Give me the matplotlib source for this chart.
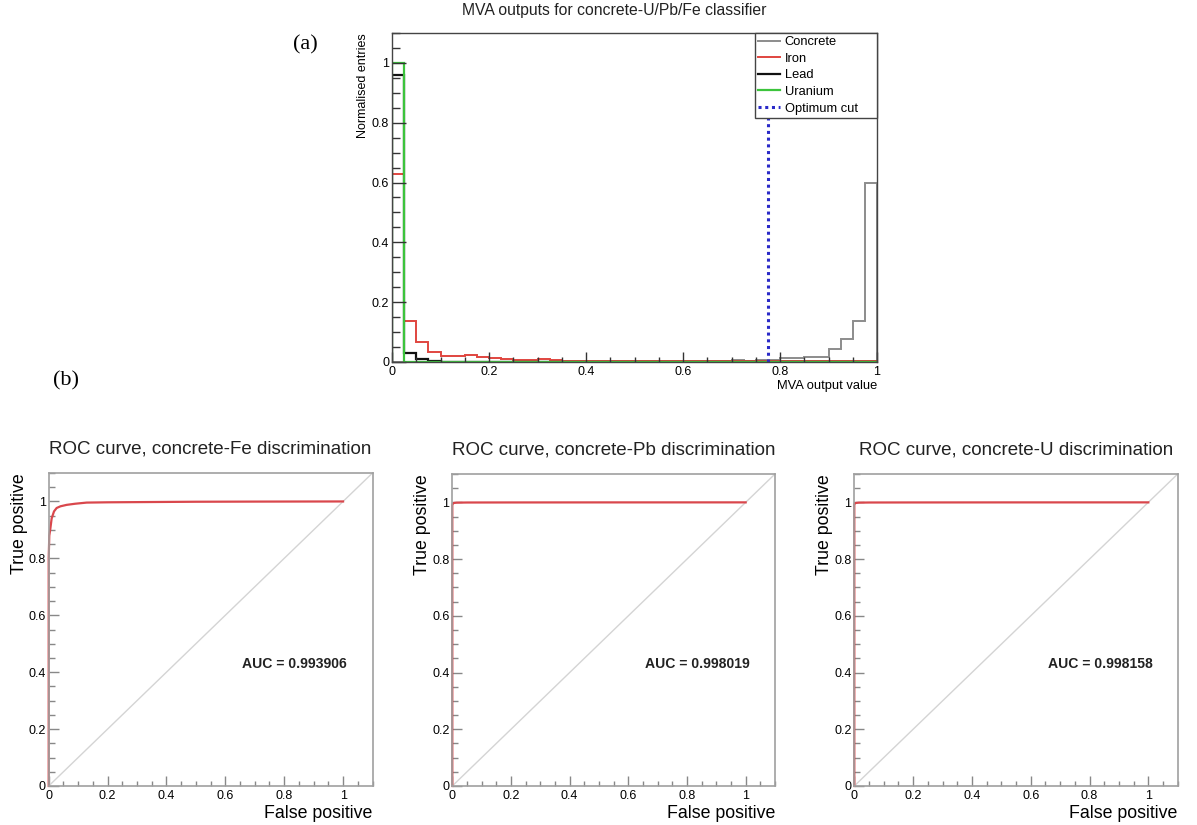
import numpy as np
import matplotlib
matplotlib.use("Agg")
import matplotlib.pyplot as plt
from matplotlib.ticker import MultipleLocator, FuncFormatter

# ---------------- data ----------------
# MVA output histograms, 40 bins over [0, 1], normalised
bin_edges = np.linspace(0.0, 1.0, 41)

concrete = [0.001] * 26 + [0.003, 0.005, 0.006, 0.005, 0.006, 0.008,
                           0.012, 0.015, 0.018, 0.018, 0.043, 0.076, 0.138, 0.600]
iron = [0.627, 0.137, 0.068, 0.034, 0.020, 0.020, 0.022, 0.018, 0.012, 0.010,
        0.008, 0.008, 0.010, 0.007, 0.005, 0.005, 0.004, 0.004, 0.004, 0.004,
        0.004, 0.004, 0.003, 0.003, 0.003, 0.003, 0.003, 0.003, 0.003, 0.003,
        0.003, 0.003, 0.003, 0.003, 0.003, 0.003, 0.003, 0.003, 0.003, 0.003]
lead = [0.961, 0.029, 0.011, 0.005] + [0.0] * 36
uranium = [1.000, 0.001, 0.001, 0.001] + [0.0] * 36
optimum_cut = 0.776

# ROC curves (false positive rate, true positive rate)
roc_titles = ["ROC curve, concrete-Fe discrimination",
              "ROC curve, concrete-Pb discrimination",
              "ROC curve, concrete-U discrimination"]
roc_auc = ["0.993906", "0.998019", "0.998158"]
roc_fpr = [
    [0.0, 0.0, 0.002, 0.005, 0.010, 0.018, 0.027, 0.040, 0.061, 0.090, 0.129, 0.20, 0.35, 0.50, 0.70, 1.0],
    [0.0, 0.0, 0.002, 0.006, 0.015, 0.05, 0.2, 0.5, 1.0],
    [0.0, 0.0, 0.002, 0.006, 0.015, 0.05, 0.2, 0.5, 1.0],
]
roc_tpr = [
    [0.0, 0.80, 0.88, 0.90, 0.94, 0.965, 0.977, 0.983, 0.988, 0.992, 0.996, 0.997, 0.998, 0.999, 0.9995, 1.0],
    [0.0, 0.990, 0.996, 0.998, 0.999, 0.9995, 0.9997, 0.9999, 1.0],
    [0.0, 0.992, 0.997, 0.998, 0.999, 0.9995, 0.9997, 0.9999, 1.0],
]

# ---------------- style ----------------
SANS = ["Liberation Sans", "DejaVu Sans"]
SERIF = ["Liberation Serif", "DejaVu Serif"]
plt.rcParams["font.family"] = SANS

W, H = 1197, 825
fig = plt.figure(figsize=(W / 100, H / 100), dpi=100)


def box(x0, y0, x1, y1):
    """Axes rectangle from pixel corners (top-left origin)."""
    return [x0 / W, 1 - y1 / H, (x1 - x0) / W, (y1 - y0) / H]


fmt = FuncFormatter(lambda v, p: f"{v:g}")


def root_ticks(ax, xmaj_len, ymaj_len, color, labelsize):
    ax.xaxis.set_major_locator(MultipleLocator(0.2))
    ax.xaxis.set_minor_locator(MultipleLocator(0.05))
    ax.yaxis.set_major_locator(MultipleLocator(0.2))
    ax.yaxis.set_minor_locator(MultipleLocator(0.05))
    ax.xaxis.set_major_formatter(fmt)
    ax.yaxis.set_major_formatter(fmt)
    ax.tick_params(axis="x", which="major", direction="in", length=xmaj_len,
                   width=1.0, color=color, labelsize=labelsize, pad=3)
    ax.tick_params(axis="x", which="minor", direction="in", length=xmaj_len / 2,
                   width=1.0, color=color)
    ax.tick_params(axis="y", which="major", direction="in", length=ymaj_len,
                   width=1.0, color=color, labelsize=labelsize, pad=2)
    ax.tick_params(axis="y", which="minor", direction="in", length=ymaj_len * 0.6,
                   width=1.0, color=color)


# ---------------- (a) MVA output histogram ----------------
ax = fig.add_axes(box(392, 33, 877, 362))
ax.set_xlim(0, 1)
ax.set_ylim(0, 1.1)
ax.stairs(concrete, bin_edges, color="#8c8c8c", lw=1.4, label="Concrete", baseline=0)
ax.stairs(iron, bin_edges, color="#e0453f", lw=1.4, label="Iron", baseline=0)
ax.stairs(lead, bin_edges, color="#111111", lw=1.6, label="Lead", baseline=0)
ax.stairs(uranium, bin_edges, color="#3cc43c", lw=1.6, label="Uranium", baseline=0)
ax.axvline(optimum_cut, color="#2a2ac8", lw=2.2, ls=(0, (1, 1.2)), label="Optimum cut")
root_ticks(ax, 7, 10, "#333333", 9)
for s in ax.spines.values():
    s.set_color("#444444")
    s.set_linewidth(1.0)
leg_x0 = (755 - 392) / 485
leg = ax.legend(loc="upper left", bbox_to_anchor=(leg_x0, 0.0, 1.0 - leg_x0, 1.0),
                mode="expand", fontsize=9.3,
                frameon=True, fancybox=False, framealpha=1.0, edgecolor="#444444",
                handlelength=1.7, handletextpad=0.35, borderpad=0.25,
                labelspacing=0.35, borderaxespad=0.0)
leg.get_frame().set_linewidth(1.0)
fig.text(614 / W, 1 - 11 / H, "MVA outputs for concrete-U/Pb/Fe classifier",
         ha="center", va="center", fontsize=11.3, color="#222222")
ax.set_ylabel("Normalised entries", loc="top", fontsize=9, labelpad=2)
ax.set_xlabel("MVA output value", loc="right", fontsize=9.3, labelpad=1)
fig.text(305 / W, 1 - 45 / H, "(a)", ha="center", va="center",
         fontsize=16, family=SERIF)
fig.text(66 / W, 1 - 381 / H, "(b)", ha="center", va="center",
         fontsize=16, family=SERIF)

# ---------------- (b) ROC curves ----------------
roc_boxes = [(48.7, 473, 372.5, 786), (452.3, 474, 775, 786), (854.3, 474, 1177.7, 786)]
for i, (x0, y0, x1, y1) in enumerate(roc_boxes):
    ax = fig.add_axes(box(x0, y0, x1, y1))
    ax.set_xlim(0, 1.1)
    ax.set_ylim(0, 1.1)
    ax.plot([0, 1.1], [0, 1.1], color="#d4d4d4", lw=1.0)
    ax.plot(roc_fpr[i], roc_tpr[i], color="#d9474c", lw=1.6, clip_on=False)
    root_ticks(ax, 7, 7, "#888888", 9)
    for s in ax.spines.values():
        s.set_color("#a0a0a0")
        s.set_linewidth(1.2)
    ax.text(0.836, 0.43, f"AUC = {roc_auc[i]}", transform=ax.transData,
            ha="center", va="center", fontsize=10.1, fontweight="bold",
            color="#222222")
    ax.set_title(roc_titles[i], fontsize=13.5, pad=14, color="#222222")
    ax.set_ylabel("True positive", loc="top", fontsize=12.8, labelpad=0.5)
    ax.set_xlabel("False positive", loc="right", fontsize=12.8, labelpad=2)

fig.savefig("out.png", dpi=100)
